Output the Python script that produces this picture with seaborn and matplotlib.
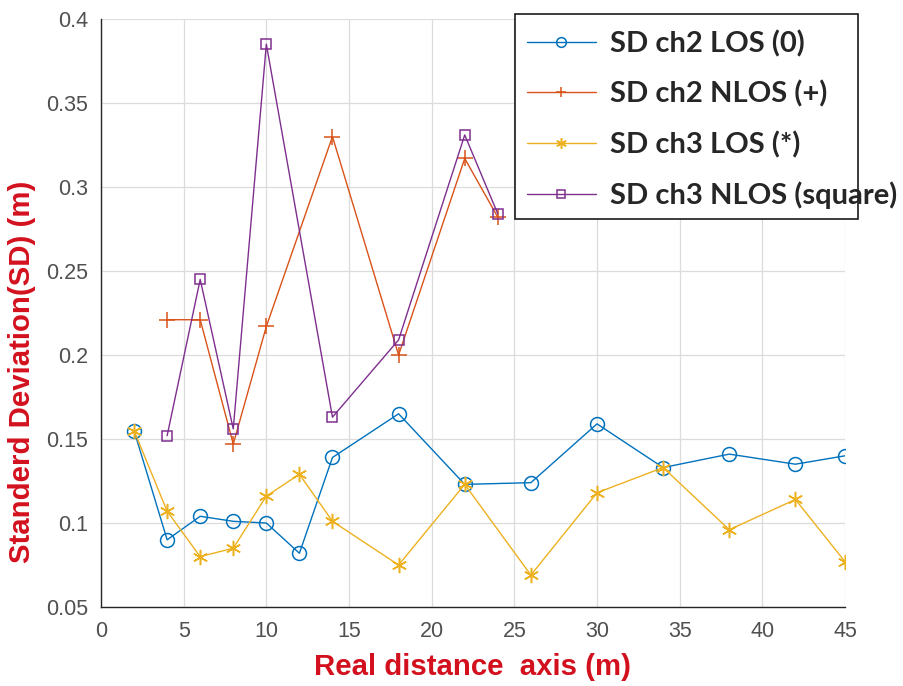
import matplotlib
matplotlib.use("Agg")
import matplotlib.pyplot as plt
import matplotlib.patches as mpatches
import numpy as np
import pandas as pd
import seaborn as sns

# Distances (m) at which each series was measured
x_los = [2, 4, 6, 8, 10, 12, 14, 18, 22, 26, 30, 34, 38, 42, 45]
x_nlos = [4, 6, 8, 10, 14, 18, 22, 24]

# Standard deviation values (m)
sd_ch2_los = [0.155, 0.090, 0.104, 0.101, 0.100, 0.082, 0.139, 0.165, 0.123,
              0.124, 0.159, 0.133, 0.141, 0.135, 0.140]
sd_ch2_nlos = [0.221, 0.221, 0.147, 0.217, 0.330, 0.200, 0.317, 0.282]
sd_ch3_los = [0.155, 0.107, 0.080, 0.085, 0.116, 0.129, 0.101, 0.075, 0.123,
              0.069, 0.118, 0.133, 0.096, 0.114, 0.077]
sd_ch3_nlos = [0.152, 0.245, 0.156, 0.385, 0.163, 0.209, 0.331, 0.284]

labels = ["SD ch2 LOS (0)", "SD ch2 NLOS (+)", "SD ch3 LOS (*)", "SD ch3 NLOS (square)"]
x_ticks = [0, 5, 10, 15, 20, 25, 30, 35, 40, 45]
y_ticks = [0.05, 0.1, 0.15, 0.2, 0.25, 0.3, 0.35, 0.4]
y_tick_labels = ["0.05", "0.1", "0.15", "0.2", "0.25", "0.3", "0.35", "0.4"]

sns.set_theme(style="whitegrid")
plt.rcParams["font.family"] = ["Liberation Sans", "DejaVu Sans"]

fig = plt.figure(figsize=(9.04, 6.86), dpi=100)
ax = fig.add_axes([101 / 904, 1 - 607 / 686, 744 / 904, 588 / 686])

colors = ["#0072BD", "#D95319", "#EDB120", "#7E2F8E"]
asterisk = (6, 2, 0)
series = [
    (x_los, sd_ch2_los, "o", 10, colors[0]),
    (x_nlos, sd_ch2_nlos, "+", 11, colors[1]),
    (x_los, sd_ch3_los, asterisk, 11, colors[2]),
    (x_nlos, sd_ch3_nlos, "s", 7.5, colors[3]),
]
for (xs, ys, mk, ms, c), lab in zip(series, labels):
    df = pd.DataFrame({"x": xs, "y": ys})
    sns.lineplot(data=df, x="x", y="y", ax=ax, color=c, linewidth=1.0,
                 marker=mk, markersize=ms, markerfacecolor="none",
                 markeredgecolor=c, markeredgewidth=1.1, label=lab,
                 legend=False, estimator=None, sort=False)

ax.set_xlim(0, 45)
ax.set_ylim(0.05, 0.4)
ax.set_xticks(x_ticks)
ax.set_yticks(y_ticks)
ax.set_yticklabels(y_tick_labels)
ax.grid(True, color="#dcdcdc", linewidth=0.9)
ax.set_facecolor("white")
for side in ["top", "right"]:
    ax.spines[side].set_visible(False)
for side in ["left", "bottom"]:
    ax.spines[side].set_color("#262626")
    ax.spines[side].set_linewidth(1.0)
ax.tick_params(axis="both", direction="in", length=5, width=1.0,
               color="#262626", labelcolor="#505050", labelsize=15.5, pad=9)
ax.tick_params(axis="x", pad=10)

red = "#D3111E"
ax.set_xlabel("Real distance  axis (m)", color=red, fontsize=21.2,
              fontweight="bold", labelpad=8)
ax.set_ylabel("Standerd Deviation(SD) (m)", color=red, fontsize=21.2,
              fontweight="bold")
ax.yaxis.set_label_coords(-0.087, 0.40)

# Legend panel: white box with black frame, entries drawn on top
box = mpatches.Rectangle((515 / 904, 1 - 219 / 686), 343 / 904, 205 / 686,
                         transform=fig.transFigure, facecolor="white",
                         edgecolor="#1a1a1a", linewidth=1.2, zorder=5,
                         clip_on=False)
ax.add_patch(box)
handles = ax.get_lines()[:4]
leg = ax.legend(handles=handles, labels=labels, loc="upper left",
                bbox_to_anchor=(527 / 904, 1 - 30 / 686),
                bbox_transform=fig.transFigure, frameon=False,
                prop={"family": ["Lato", "DejaVu Sans"], "weight": "bold", "size": 21},
                handlelength=2.36, handletextpad=0.5, labelspacing=0.8,
                borderpad=0, borderaxespad=0, markerscale=0.7)
leg.set_zorder(6)

fig.savefig("out.png", dpi=100, facecolor="white")
